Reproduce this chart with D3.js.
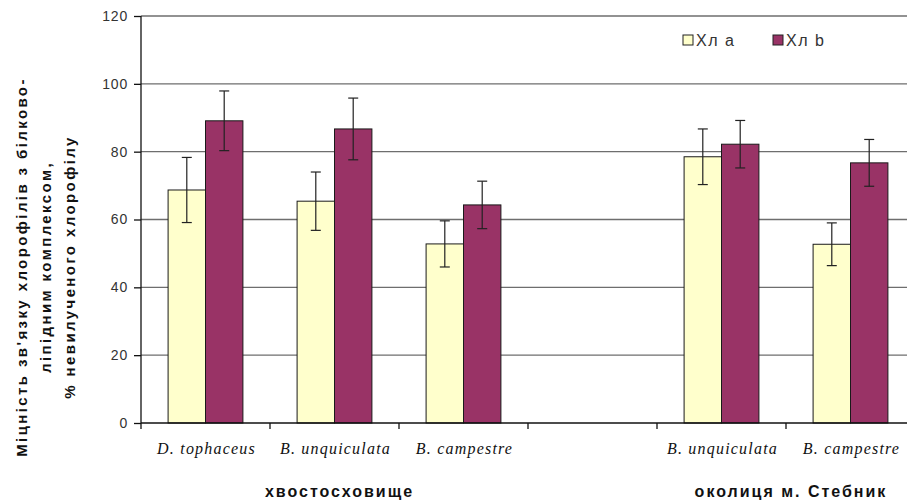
<!DOCTYPE html>
<html>
<head>
<meta charset="utf-8">
<script src="https://cdn.jsdelivr.net/npm/d3@7"></script>
<style>
    html, body { margin: 0; padding: 0; background: #fff; overflow: hidden; }
    svg { display: block; }
</style>
</head>
<body>
<div id="chart"></div>
<script>
// Chlorophyll binding strength, % of unextracted chlorophyll
var categories = ["D. tophaceus", "B. unquiculata", "B. campestre", "", "B. unquiculata", "B. campestre"];
var seriesNames = ["Хл а", "Хл b"];
var valuesA = [68.7, 65.4, 52.8, null, 78.5, 52.7];
var valuesB = [89.1, 86.7, 64.3, null, 82.2, 76.7];
var errorsA = [9.6, 8.6, 6.8, null, 8.2, 6.3];
var errorsB = [8.8, 9.1, 7.0, null, 7.0, 6.9];
var yTicks = [0, 20, 40, 60, 80, 100, 120];
var groups = [
    { label: "хвостосховище", from: 0, to: 2 },
    { label: "околиця м. Стебник", from: 4, to: 5 }
];
var yTitle = ["Міцність зв'язку хлорофілів з білково-", "ліпідним комплексом,", "% невилученого хлорофілу"];

var width = 907, height = 503;
var margin = { top: 16, right: -8, bottom: 80, left: 141 };
var plotW = width - margin.left - margin.right;
var plotH = height - margin.top - margin.bottom;

var colors = ["#ffffcc", "#993366"];
var sans = "Arial, 'Liberation Sans', sans-serif";

var svg = d3.select("#chart").append("svg")
    .attr("width", width)
    .attr("height", height);

var g = svg.append("g")
    .attr("transform", "translate(" + margin.left + "," + margin.top + ")");

var x = d3.scaleBand()
    .domain(d3.range(categories.length))
    .range([0, plotW])
    .paddingInner(0.42)
    .paddingOuter(0.21);

var xSub = d3.scaleBand()
    .domain(d3.range(seriesNames.length))
    .range([0, x.bandwidth()]);

var y = d3.scaleLinear().domain([0, 120]).range([plotH, 0]);

// gridlines
g.append("g")
    .selectAll("line")
    .data(yTicks.filter(function (d) { return d > 0; }))
    .enter().append("line")
    .attr("x1", 0).attr("x2", plotW)
    .attr("y1", function (d) { return y(d); })
    .attr("y2", function (d) { return y(d); })
    .attr("stroke", "#6e6e6e")
    .attr("stroke-width", 1.3);

// bars
var data = categories.map(function (c, i) {
    return [
        { i: i, s: 0, v: valuesA[i], e: errorsA[i] },
        { i: i, s: 1, v: valuesB[i], e: errorsB[i] }
    ];
});

var cat = g.selectAll(".cat")
    .data(data)
    .enter().append("g")
    .attr("class", "cat")
    .attr("transform", function (d, i) { return "translate(" + x(i) + ",0)"; });

var bar = cat.selectAll(".bar")
    .data(function (d) { return d.filter(function (b) { return b.v != null; }); })
    .enter().append("g");

bar.append("rect")
    .attr("x", function (d) { return xSub(d.s); })
    .attr("width", xSub.bandwidth())
    .attr("y", function (d) { return y(d.v); })
    .attr("height", function (d) { return y(0) - y(d.v); })
    .attr("fill", function (d) { return colors[d.s]; })
    .attr("stroke", "#1a1a1a")
    .attr("stroke-width", 1);

// error bars
var cap = 5;
bar.append("line")
    .attr("x1", function (d) { return xSub(d.s) + xSub.bandwidth() / 2; })
    .attr("x2", function (d) { return xSub(d.s) + xSub.bandwidth() / 2; })
    .attr("y1", function (d) { return y(d.v + d.e); })
    .attr("y2", function (d) { return y(d.v - d.e); })
    .attr("stroke", "#222").attr("stroke-width", 1.2);
bar.selectAll(".cap")
    .data(function (d) { return [d.v + d.e, d.v - d.e].map(function (v) { return { s: d.s, v: v }; }); })
    .enter().append("line")
    .attr("x1", function (d) { return xSub(d.s) + xSub.bandwidth() / 2 - cap; })
    .attr("x2", function (d) { return xSub(d.s) + xSub.bandwidth() / 2 + cap; })
    .attr("y1", function (d) { return y(d.v); })
    .attr("y2", function (d) { return y(d.v); })
    .attr("stroke", "#222").attr("stroke-width", 1.2);

// y axis
var yAxis = g.append("g")
    .call(d3.axisLeft(y).tickValues(yTicks).tickSize(7).tickPadding(6));
yAxis.select(".domain").attr("stroke", "#111").attr("stroke-width", 1.3).attr("d", "M0," + plotH + "V0");
yAxis.selectAll(".tick line").attr("stroke", "#111").attr("stroke-width", 1.3);
yAxis.selectAll(".tick text")
    .attr("font-family", sans)
    .attr("font-size", "14px")
    .attr("letter-spacing", "0.8px")
    .attr("fill", "#333");

// x axis
var xAxisG = g.append("g").attr("transform", "translate(0," + plotH + ")");
xAxisG.append("line")
    .attr("x1", 0).attr("x2", plotW)
    .attr("stroke", "#111").attr("stroke-width", 1.3);
xAxisG.selectAll(".xtick")
    .data(d3.range(categories.length + 1))
    .enter().append("line")
    .attr("x1", function (i) { return i * x.step(); })
    .attr("x2", function (i) { return i * x.step(); })
    .attr("y1", 0).attr("y2", 6)
    .attr("stroke", "#111").attr("stroke-width", 1.3);
xAxisG.selectAll(".xlabel")
    .data(categories)
    .enter().append("text")
    .attr("x", function (d, i) { return x(i) + x.bandwidth() / 2 + 1; })
    .attr("y", 31)
    .attr("text-anchor", "middle")
    .attr("font-family", "'Liberation Serif', 'Times New Roman', serif")
    .attr("font-style", "italic")
    .attr("font-size", "16px")
    .attr("letter-spacing", "1.2px")
    .attr("fill", "#111")
    .text(function (d) { return d; });

// group labels
xAxisG.selectAll(".glabel")
    .data(groups)
    .enter().append("text")
    .attr("x", function (d) { return (x(d.from) + x(d.to) + x.bandwidth()) / 2 + 5; })
    .attr("y", 74)
    .attr("text-anchor", "middle")
    .attr("font-family", sans)
    .attr("font-weight", "bold")
    .attr("font-size", "16px")
    .attr("letter-spacing", "2px")
    .attr("fill", "#111")
    .text(function (d) { return d.label; });

// y title
var yt = svg.append("text")
    .attr("transform", "translate(22,267) rotate(-90)")
    .attr("text-anchor", "middle")
    .attr("font-family", sans)
    .attr("font-weight", "bold")
    .attr("font-size", "15px")
    .attr("letter-spacing", "2.4px")
    .attr("fill", "#111");
yt.selectAll("tspan")
    .data(yTitle)
    .enter().append("tspan")
    .attr("x", 0)
    .attr("dy", function (d, i) { return i === 0 ? 5 : 24; })
    .text(function (d) { return d; });

// legend
var legend = svg.append("g").attr("transform", "translate(683,35)");
var li = legend.selectAll(".li")
    .data(seriesNames)
    .enter().append("g")
    .attr("transform", function (d, i) { return "translate(" + (i * 90) + ",0)"; });
li.append("rect")
    .attr("width", 10).attr("height", 10)
    .attr("fill", function (d, i) { return colors[i]; })
    .attr("stroke", "#222").attr("stroke-width", 1);
li.append("text")
    .attr("x", 13).attr("y", 11)
    .attr("font-family", sans)
    .attr("font-size", "16px")
    .attr("letter-spacing", "1.5px")
    .attr("fill", "#333")
    .text(function (d) { return d; });
</script>
</body>
</html>
